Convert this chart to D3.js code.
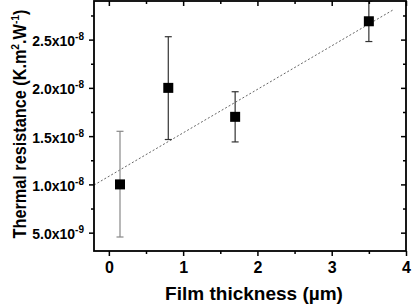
<!DOCTYPE html>
<html>
<head>
<meta charset="utf-8">
<script src="https://cdn.jsdelivr.net/npm/d3@7"></script>
<style>
  body { margin: 0; background: #fff; }
  svg { display: block; font-family: "Liberation Sans", Arial, sans-serif; font-weight: bold; }
</style>
</head>
<body>
<svg id="chart" width="413" height="306"></svg>
<script>
// measured points
const thickness = [0.15, 0.8, 1.7, 3.5];
const resistance = [1.0e-8, 2.0e-8, 1.7e-8, 2.69e-8];
const errLow = [0.455e-8, 1.465e-8, 1.44e-8, 2.48e-8];
const errHigh = [1.55e-8, 2.53e-8, 1.96e-8, 2.90e-8];
const errColor = ['#888', '#333', '#333', '#333'];

// linear fit (dotted line)
const fitX = [-0.2, 3.84];
const fitY = [0.993e-8, 2.814e-8];

// tick values
const xTicks = [0, 1, 2, 3, 4];
const xMinor = [0.5, 1.5, 2.5, 3.5];
const yTicks = [5e-9, 1e-8, 1.5e-8, 2e-8, 2.5e-8];
const yMinor = [7.5e-9, 1.25e-8, 1.75e-8, 2.25e-8, 2.75e-8];

const width = 413, height = 306;
const margin = { top: 1, right: 7, bottom: 55, left: 94 };

const svg = d3.select('#chart');

const x = d3.scaleLinear().domain([-0.2, 4]).range([margin.left, width - margin.right]);
const y = d3.scaleLinear().domain([3.1e-9, 2.9e-8]).range([height - margin.bottom, margin.top]);

svg.append('clipPath').attr('id', 'plot-clip')
  .append('rect')
  .attr('x', margin.left).attr('y', margin.top)
  .attr('width', width - margin.left - margin.right)
  .attr('height', height - margin.top - margin.bottom);

const plot = svg.append('g').attr('clip-path', 'url(#plot-clip)');

// fit line
plot.append('path')
  .attr('d', d3.line()(fitX.map((v, i) => [x(v), y(fitY[i])])))
  .attr('fill', 'none')
  .attr('stroke', '#666')
  .attr('stroke-width', 1)
  .attr('stroke-dasharray', '2,2');

// error bars
const capW = 3.5;
thickness.forEach((t, i) => {
  const g = plot.append('g').attr('stroke', errColor[i]).attr('stroke-width', 1.2);
  g.append('line').attr('x1', x(t)).attr('x2', x(t)).attr('y1', y(errLow[i])).attr('y2', y(errHigh[i]));
  g.append('line').attr('x1', x(t) - capW).attr('x2', x(t) + capW).attr('y1', y(errLow[i])).attr('y2', y(errLow[i]));
  g.append('line').attr('x1', x(t) - capW).attr('x2', x(t) + capW).attr('y1', y(errHigh[i])).attr('y2', y(errHigh[i]));
});

// markers
const sq = 10;
plot.selectAll('rect.pt')
  .data(thickness)
  .enter()
  .append('rect')
  .attr('class', 'pt')
  .attr('x', (d) => x(d) - sq / 2)
  .attr('y', (d, i) => y(resistance[i]) - sq / 2)
  .attr('width', sq)
  .attr('height', sq)
  .attr('fill', '#000');

// axes: bottom/left ticks outward, top/right inward
function tickStyle(g) {
  g.select('.domain').remove();
  g.selectAll('line').attr('stroke', '#000').attr('stroke-width', 1.5);
}

const xb = height - margin.bottom;
svg.append('g').attr('transform', `translate(0,${xb})`)
  .call(d3.axisBottom(x).tickValues(xTicks).tickSize(5).tickFormat(d3.format('d')))
  .call(tickStyle)
  .call((g) => g.selectAll('text').attr('font-size', 16).attr('font-weight', 'bold')
    .attr('font-family', '"Liberation Sans", Arial, sans-serif').attr('fill', '#000').attr('dy', '0.71em').attr('y', 11));
svg.append('g').attr('transform', `translate(0,${xb})`)
  .call(d3.axisBottom(x).tickValues(xMinor).tickSize(3).tickFormat(''))
  .call(tickStyle);

svg.append('g').attr('transform', `translate(0,${margin.top})`)
  .call(d3.axisBottom(x).tickValues(xTicks).tickSize(5).tickFormat(''))
  .call(tickStyle);
svg.append('g').attr('transform', `translate(0,${margin.top})`)
  .call(d3.axisBottom(x).tickValues(xMinor).tickSize(3).tickFormat(''))
  .call(tickStyle);

svg.append('g').attr('transform', `translate(${margin.left},0)`)
  .call(d3.axisLeft(y).tickValues(yTicks).tickSize(5).tickFormat(''))
  .call(tickStyle);
svg.append('g').attr('transform', `translate(${margin.left},0)`)
  .call(d3.axisLeft(y).tickValues(yMinor).tickSize(3).tickFormat(''))
  .call(tickStyle);

const xr = width - margin.right;
svg.append('g').attr('transform', `translate(${xr},0)`)
  .call(d3.axisLeft(y).tickValues(yTicks).tickSize(5).tickFormat(''))
  .call(tickStyle);
svg.append('g').attr('transform', `translate(${xr},0)`)
  .call(d3.axisLeft(y).tickValues(yMinor).tickSize(3).tickFormat(''))
  .call(tickStyle);

// y tick labels like 2.5x10^-8
yTicks.forEach((v) => {
  const exp = Math.floor(Math.log10(v) + 1e-9);
  const mant = (v / Math.pow(10, exp)).toFixed(1);
  const t = svg.append('text')
    .attr('x', 84)
    .attr('y', y(v) + 6.5)
    .attr('text-anchor', 'end')
    .attr('font-size', 14)
    .attr('fill', '#000');
  t.append('tspan').text(mant + 'x10');
  t.append('tspan').attr('font-size', 10).attr('dy', -6).text(String(exp));
});

// frame
svg.append('rect')
  .attr('x', margin.left).attr('y', margin.top)
  .attr('width', width - margin.left - margin.right)
  .attr('height', height - margin.top - margin.bottom)
  .attr('fill', 'none')
  .attr('stroke', '#000')
  .attr('stroke-width', 1.8);

// axis titles
svg.append('text')
  .attr('x', (margin.left + xr) / 2 + 4)
  .attr('y', 300)
  .attr('text-anchor', 'middle')
  .attr('font-size', 19)
  .attr('fill', '#000')
  .text('Film thickness (µm)');

// the original font is a bit narrower than Liberation Sans, so squeeze along the text
const yt = svg.append('text')
  .attr('transform', `translate(26,${(margin.top + xb) / 2 - 2}) rotate(-90) scale(0.93,1)`)
  .attr('text-anchor', 'middle')
  .attr('font-size', 17.5)
  .attr('fill', '#000');
yt.append('tspan').text('Thermal resistance (K.m');
yt.append('tspan').attr('font-size', 11).attr('dy', -7).text('2');
yt.append('tspan').attr('dy', 7).text('.W');
yt.append('tspan').attr('font-size', 11).attr('dy', -7).text('-1');
yt.append('tspan').attr('dy', 7).text(')');
</script>
</body>
</html>
